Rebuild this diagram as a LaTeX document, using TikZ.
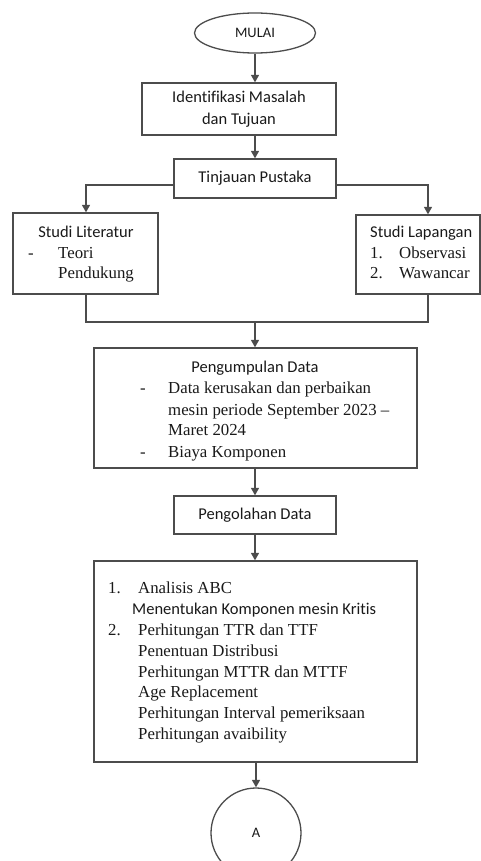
\documentclass[tikz,border=0pt]{standalone}
\usepackage{fontspec}
\setmainfont{Liberation Serif}
\newfontfamily\calfont[Ligatures=NoCommon]{Carlito}
\usetikzlibrary{arrows.meta,shapes.geometric}
\begin{document}
\begin{tikzpicture}[x=1pt,y=-1pt,
  line/.style={draw=black!70, line width=1.3pt},
  arr/.style={line, -{Triangle[width=8pt,length=7.5pt]}},
  box/.style={line, rectangle, inner sep=0pt},
  sans/.style={font=\calfont\fontsize{16.5}{22}\selectfont, text=black!90},
  serif/.style={font=\fontsize{16.8}{21}\selectfont, text=black!90},
  txt/.style={inner sep=0pt, anchor=base west},
  ctxt/.style={inner sep=0pt, anchor=base}]
\useasboundingbox (0,0) rectangle (481,861);
% shapes
\node[line, ellipse, minimum width=121pt, minimum height=40pt, inner sep=0pt,
      font=\calfont\fontsize{14.5}{17}\selectfont, text=black!90] (mulai) at (255,33) {MULAI};
\node[box, sans, align=center, minimum width=194pt, minimum height=52pt] (ident) at (239,109)
      {Identifikasi Masalah\\dan Tujuan};
\node[box, sans, minimum width=162pt, minimum height=39pt] (tinj) at (255,178.5) {Tinjauan Pustaka};
\node[box, minimum width=145pt, minimum height=81pt] (lit) at (85.5,253.5) {};
\node[box, minimum width=124pt, minimum height=79pt] (lap) at (418,254.5) {};
\node[box, minimum width=323pt, minimum height=120pt] (coll) at (255.5,408) {};
\node[box, sans, minimum width=162pt, minimum height=38pt] (proc) at (255,515) {Pengolahan Data};
\node[box, minimum width=323pt, minimum height=201pt] (anal) at (255.5,661.5) {};
\node[line, circle, minimum size=90pt, inner sep=0pt,
      font=\calfont\fontsize{14.5}{17}\selectfont, text=black!90] (a) at (256,833) {A};
% texts: studi literatur
\node[ctxt, sans] (lit1) at (86,237) {Studi Literatur};
\node[txt, serif] (lit2d) at (28,258) {-};
\node[txt, serif] (lit2) at (58,258) {Teori};
\node[txt, serif] (lit3) at (58,278) {Pendukung};
% studi lapangan
\node[txt, sans] (lap1) at (370,237) {Studi Lapangan};
\node[txt, serif] (lap2n) at (370,258) {1.};
\node[txt, serif] (lap2) at (399,258) {Observasi};
\node[txt, serif] (lap3n) at (370,278) {2.};
\node[txt, serif] (lap3) at (399,278) {Wawancar};
% pengumpulan data
\node[ctxt, sans] (c1) at (255,372) {Pengumpulan Data};
\node[txt, serif] (c2d) at (140,393) {-};
\node[txt, serif] (c2) at (168,393) {Data kerusakan dan perbaikan};
\node[txt, serif] (c3) at (168,415) {mesin periode September 2023 –};
\node[txt, serif] (c4) at (168,435) {Maret 2024};
\node[txt, serif] (c5d) at (140,457) {-};
\node[txt, serif] (c5) at (168,457) {Biaya Komponen};
% analysis box
\node[txt, serif] (b1n) at (108,593) {1.};
\node[txt, serif] (b1) at (138,593) {Analisis ABC};
\node[txt, sans] (b2) at (132,614) {Menentukan Komponen mesin Kritis};
\node[txt, serif] (b3n) at (108,635) {2.};
\node[txt, serif] (b3) at (138,635) {Perhitungan TTR dan TTF};
\node[txt, serif] (b4) at (138,656) {Penentuan Distribusi};
\node[txt, serif] (b5) at (138,677) {Perhitungan MTTR dan MTTF};
\node[txt, serif] (b6) at (138,697) {Age Replacement};
\node[txt, serif] (b7) at (138,718) {Perhitungan Interval pemeriksaan};
\node[txt, serif] (b8) at (138,739) {Perhitungan avaibility};
% connectors
\draw[arr] (mulai.south) -- (mulai.south |- ident.north);
\draw[arr] (tinj.north |- ident.south) -- (tinj.north);
\draw[arr] ([yshift=-6.5pt]tinj.west) -| ([xshift=0.5pt]lit.north);
\draw[arr] ([yshift=-6.5pt]tinj.east) -| ([xshift=10pt]lap.north);
\coordinate (join) at (255,322);
\draw[line] ([xshift=0.5pt]lit.south) |- (join) -| ([xshift=10pt]lap.south);
\draw[arr] (join) -- (join |- coll.north);
\draw[arr] (proc.north |- coll.south) -- (proc.north);
\draw[arr] (proc.south) -- (proc.south |- anal.north);
\draw[arr] (a.north |- anal.south) -- (a.north);
\end{tikzpicture}
\end{document}
